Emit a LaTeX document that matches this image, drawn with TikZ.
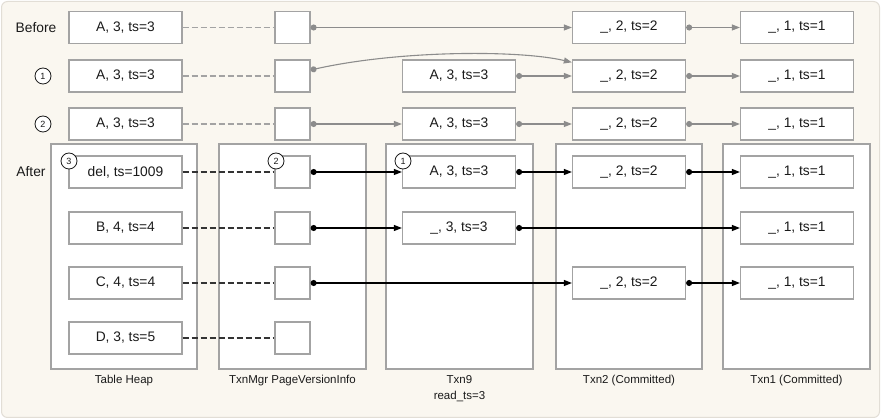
\documentclass[tikz,border=0pt]{standalone}
\usepackage{fontspec}
\setmainfont{Liberation Sans}
\usetikzlibrary{arrows.meta}
\definecolor{bgc}{HTML}{FAF7F0}
\definecolor{bgline}{HTML}{E2DED6}
\definecolor{boxline}{HTML}{A3A3A3}
\definecolor{garr}{HTML}{8C8C8C}
\definecolor{txt}{HTML}{1A1A1A}
\definecolor{dline}{HTML}{333333}
\begin{document}
\begin{tikzpicture}[x=1pt,y=-1pt,
  rec/.style={draw=boxline, fill=white, line width=1.3pt, minimum height=32pt, inner sep=0pt, font=\fontsize{13.8}{16}\selectfont, text=txt},
  wide/.style={rec, minimum width=113pt},
  ptr/.style={rec, minimum width=35pt},
  cont/.style={draw=boxline, fill=white, line width=1.3pt, minimum height=225pt, inner sep=0pt},
  num/.style={circle, draw=txt, fill=white, line width=0.8pt, minimum size=16pt, inner sep=0pt, font=\fontsize{9}{10}\selectfont, text=txt},
  lbl/.style={font=\fontsize{13.8}{16}\selectfont, text=txt},
  capt/.style={font=\fontsize{11.5}{16}\selectfont, text=txt, align=center},
  glink/.style={draw=boxline, dash pattern=on 6pt off 3pt, line width=1.2pt},
  blink/.style={draw=dline, dash pattern=on 6pt off 3pt, line width=1.1pt},
  garrow/.style={draw=garr, line width=1.1pt, arrows={Circle[length=6pt]-Triangle[length=8pt,width=6pt]}},
  barrow/.style={draw=black, line width=1.1pt, arrows={Circle[length=6pt]-Triangle[length=8pt,width=6pt]}}
]
\useasboundingbox (0,0) rectangle (881,419);
\path[fill=bgc, draw=bgline, line width=1pt, rounded corners=6pt] (1.5,1.5) rectangle (879.5,417.5);

% row labels
\node[lbl] (lbefore) at (36,27.5) {Before};
\node[num] (r1) at (43,76) {1};
\node[num] (r2) at (43,124) {2};
\node[lbl] (lafter) at (31,172) {After};

% containers
\node[cont, minimum width=146pt] (cth) at (124,256.5) {};
\node[cont, minimum width=147pt] (cpv) at (292.5,256.5) {};
\node[cont, minimum width=147pt] (ct9) at (459.5,256.5) {};
\node[cont, minimum width=146pt] (ct2) at (629,256.5) {};
\node[cont, minimum width=147pt] (ct1) at (796.5,256.5) {};

% container captions
\node[capt] (capth) at (124,381) {Table Heap};
\node[capt] (cappv) at (292.5,381) {TxnMgr PageVersionInfo};
\node[capt] (capt9) at (459.5,389) {Txn9\\read\_ts=3};
\node[capt] (capt2) at (629,381) {Txn2 (Committed)};
\node[capt] (capt1) at (796.5,381) {Txn1 (Committed)};

% Before row
\node[wide] (h0) at (125.5,27.5) {A, 3, ts=3};
\node[ptr] (p0) at (292.5,27.5) {};
\node[wide] (b0) at (629,27.5) {\_, 2, ts=2};
\node[wide] (a0) at (797,27.5) {\_, 1, ts=1};
\draw[glink] (h0.east) -- (p0.west);
\draw[garrow] (p0.east) -- (b0.west);
\draw[garrow] (b0.east) -- (a0.west);

% row 1
\node[wide] (h1) at (125.5,76) {A, 3, ts=3};
\node[ptr] (p1) at (292.5,76) {};
\node[wide] (c1) at (459,76) {A, 3, ts=3};
\node[wide] (b1) at (629,76) {\_, 2, ts=2};
\node[wide] (a1) at (797,76) {\_, 1, ts=1};
\draw[glink] (h1.east) -- (p1.west);
\draw[garrow] ([yshift=6pt]p1.east) .. controls (400,50) and (520,50) .. ([yshift=-3pt]b1.north west);
\draw[garrow] (c1.east) -- (b1.west);
\draw[garrow] (b1.east) -- (a1.west);

% row 2
\node[wide] (h2) at (125.5,124) {A, 3, ts=3};
\node[ptr] (p2) at (292.5,124) {};
\node[wide] (c2) at (459,124) {A, 3, ts=3};
\node[wide] (b2) at (629,124) {\_, 2, ts=2};
\node[wide] (a2) at (797,124) {\_, 1, ts=1};
\draw[glink] (h2.east) -- (p2.west);
\draw[garrow] (p2.east) -- (c2.west);
\draw[garrow] (c2.east) -- (b2.west);
\draw[garrow] (b2.east) -- (a2.west);

% After rows
\node[wide] (hd) at (125.5,172) {del, ts=1009};
\node[ptr] (pd) at (292.5,172) {};
\node[wide] (cd) at (459,172) {A, 3, ts=3};
\node[wide] (bd) at (629,172) {\_, 2, ts=2};
\node[wide] (ad) at (797,172) {\_, 1, ts=1};
\draw[blink] (hd.east) -- (pd.west);
\draw[barrow] (pd.east) -- (cd.west);
\draw[barrow] (cd.east) -- (bd.west);
\draw[barrow] (bd.east) -- (ad.west);

\node[wide] (hb) at (125.5,228) {B, 4, ts=4};
\node[ptr] (pb) at (292.5,228) {};
\node[wide] (cb) at (459,228) {\_, 3, ts=3};
\node[wide] (ab) at (797,228) {\_, 1, ts=1};
\draw[blink] (hb.east) -- (pb.west);
\draw[barrow] (pb.east) -- (cb.west);
\draw[barrow] (cb.east) -- (ab.west);

\node[wide] (hc) at (125.5,283) {C, 4, ts=4};
\node[ptr] (pc) at (292.5,283) {};
\node[wide] (bc) at (629,283) {\_, 2, ts=2};
\node[wide] (ac) at (797,283) {\_, 1, ts=1};
\draw[blink] (hc.east) -- (pc.west);
\draw[barrow] (pc.east) -- (bc.west);
\draw[barrow] (bc.east) -- (ac.west);

\node[wide] (he) at (125.5,338) {D, 3, ts=5};
\node[ptr] (pe) at (292.5,338) {};
\draw[blink] (he.east) -- (pe.west);

% step markers in After
\node[num] (m3) at (69,161) {3};
\node[num] (m2) at (276,161) {2};
\node[num] (m1) at (403,161) {1};
\end{tikzpicture}
\end{document}
